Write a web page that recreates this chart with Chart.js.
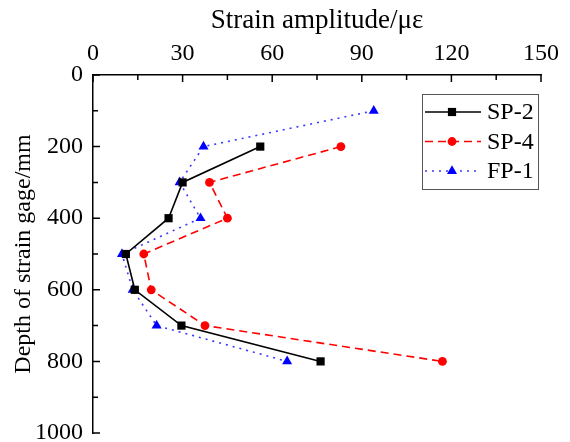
<!DOCTYPE html>
<html>
<head>
<meta charset="utf-8">
<script src="https://cdn.jsdelivr.net/npm/chart.js@4.4.0/dist/chart.umd.min.js"></script>
<style>
  html, body { margin: 0; padding: 0; background: #fff; }
</style>
</head>
<body>
<canvas id="strainChart" width="570" height="442"></canvas>
<script>
// depths of the strain gages (mm) and measured strain amplitude (με)
const depthSP = [200, 300, 400, 500, 600, 700, 800];
const depthFP = [100, 200, 300, 400, 500, 600, 700, 800];
const sp2Strain = [56, 30, 25.3, 11, 14, 29.6, 76.2];
const sp4Strain = [83, 39, 45, 17, 19.5, 37.5, 117];
const fp1Strain = [94, 37, 29, 36, 9.7, 13.3, 21.3, 65];
const xTicks = [0, 30, 60, 90, 120, 150];
const yTicks = [0, 200, 400, 600, 800, 1000];

const serif = "'Liberation Serif', 'Times New Roman', serif";

function toPoints(strains, depths) {
    return strains.map((s, i) => ({ x: s, y: depths[i] }));
}

// inward ticks (major + minor) on the top and left axes
const axisTicks = {
    id: 'axisTicks',
    afterDraw(chart) {
        const { ctx, chartArea: area, scales: { x, y } } = chart;
        ctx.save();
        ctx.strokeStyle = '#000';
        ctx.lineWidth = 1.5;
        ctx.beginPath();
        xTicks.forEach((v, i) => {
            const px = x.getPixelForValue(v);
            ctx.moveTo(px, area.top);
            ctx.lineTo(px, area.top + 7);
            if (i < xTicks.length - 1) {
                const mx = x.getPixelForValue((v + xTicks[i + 1]) / 2);
                ctx.moveTo(mx, area.top);
                ctx.lineTo(mx, area.top + 5);
            }
        });
        yTicks.forEach((v, i) => {
            const py = y.getPixelForValue(v);
            ctx.moveTo(area.left, py);
            ctx.lineTo(area.left + 7, py);
            if (i < yTicks.length - 1) {
                const my = y.getPixelForValue((v + yTicks[i + 1]) / 2);
                ctx.moveTo(area.left, my);
                ctx.lineTo(area.left + 5, my);
            }
        });
        ctx.stroke();
        ctx.restore();
    }
};

// boxed legend inside the plot, line + marker + label
const boxLegend = {
    id: 'boxLegend',
    afterDraw(chart) {
        const { ctx, chartArea: area } = chart;
        const boxRight = area.right - 3, boxTop = area.top + 19;
        const boxW = 116, boxH = 95, rowH = 29.5;
        const left = boxRight - boxW;
        ctx.save();
        ctx.strokeStyle = '#555';
        ctx.lineWidth = 1;
        ctx.strokeRect(left + 0.5, boxTop + 0.5, boxW, boxH);
        chart.data.datasets.forEach((ds, i) => {
            const cy = boxTop + 18 + i * rowH;
            ctx.beginPath();
            ctx.setLineDash(ds.borderDash || []);
            ctx.strokeStyle = ds.borderColor;
            ctx.lineWidth = ds.borderWidth;
            ctx.moveTo(left + 3, cy);
            ctx.lineTo(left + 59, cy);
            ctx.stroke();
            ctx.setLineDash([]);
            ctx.fillStyle = ds.pointBackgroundColor;
            ctx.strokeStyle = ds.pointBorderColor;
            Chart.helpers.drawPoint(ctx, {
                pointStyle: ds.pointStyle, radius: ds.pointRadius, rotation: 0, borderWidth: 0
            }, left + 30, cy);
            ctx.fillStyle = '#000';
            ctx.font = '24px ' + serif;
            ctx.textBaseline = 'middle';
            ctx.textAlign = 'left';
            ctx.fillText(ds.label, left + 65, cy + 1);
        });
        ctx.restore();
    }
};

new Chart(document.getElementById('strainChart'), {
    type: 'line',
    data: {
        datasets: [
            {
                label: 'SP-2',
                data: toPoints(sp2Strain, depthSP),
                borderColor: '#000',
                borderWidth: 1.6,
                pointStyle: 'rect',
                pointRadius: 5.8,
                pointBackgroundColor: '#000',
                pointBorderColor: '#000',
                pointBorderWidth: 0
            },
            {
                label: 'SP-4',
                data: toPoints(sp4Strain, depthSP),
                borderColor: '#ff0000',
                borderWidth: 1.6,
                borderDash: [8, 5],
                pointStyle: 'circle',
                pointRadius: 4.4,
                pointBackgroundColor: '#ff0000',
                pointBorderColor: '#ff0000',
                pointBorderWidth: 0
            },
            {
                label: 'FP-1',
                data: toPoints(fp1Strain, depthFP),
                borderColor: '#3a3aff',
                borderWidth: 1.6,
                borderDash: [2, 5],
                pointStyle: 'triangle',
                pointRadius: 5.8,
                pointBackgroundColor: '#0000ff',
                pointBorderColor: '#0000ff',
                pointBorderWidth: 0
            }
        ]
    },
    options: {
        responsive: false,
        animation: false,
        layout: { padding: { top: 0, left: 0, right: 29, bottom: 9 } },
        plugins: {
            legend: { display: false },
            tooltip: { enabled: false }
        },
        scales: {
            x: {
                type: 'linear',
                position: 'top',
                min: 0,
                max: 150,
                afterBuildTicks: scale => { scale.ticks = xTicks.map(v => ({ value: v })); },
                afterFit: scale => {
                    scale.height = 75;
                    scale.paddingLeft = 0;
                    scale.paddingRight = 0;
                },
                grid: { display: false, drawTicks: false },
                border: { display: true, color: '#000', width: 1.5 },
                ticks: { color: '#000', padding: 7, maxRotation: 0, font: { family: serif, size: 24 } },
                title: {
                    display: true,
                    text: 'Strain amplitude/με',
                    color: '#000',
                    padding: { top: 7 },
                    font: { family: serif, size: 27, lineHeight: 1 }
                }
            },
            y: {
                type: 'linear',
                reverse: true,
                min: 0,
                max: 1000,
                afterBuildTicks: scale => { scale.ticks = yTicks.map(v => ({ value: v })); },
                afterFit: scale => {
                    scale.width = 93;
                    scale.paddingTop = 0;
                    scale.paddingBottom = 0;
                },
                grid: { display: false, drawTicks: false },
                border: { display: true, color: '#000', width: 1.5 },
                ticks: {
                    color: '#000',
                    padding: 10,
                    font: { family: serif, size: 24 },
                    callback: v => String(v)
                },
                title: {
                    display: true,
                    text: 'Depth of strain gage/mm',
                    color: '#000',
                    padding: { top: 12 },
                    font: { family: serif, size: 24, lineHeight: 1 }
                }
            }
        }
    },
    plugins: [axisTicks, boxLegend]
});
</script>
</body>
</html>
